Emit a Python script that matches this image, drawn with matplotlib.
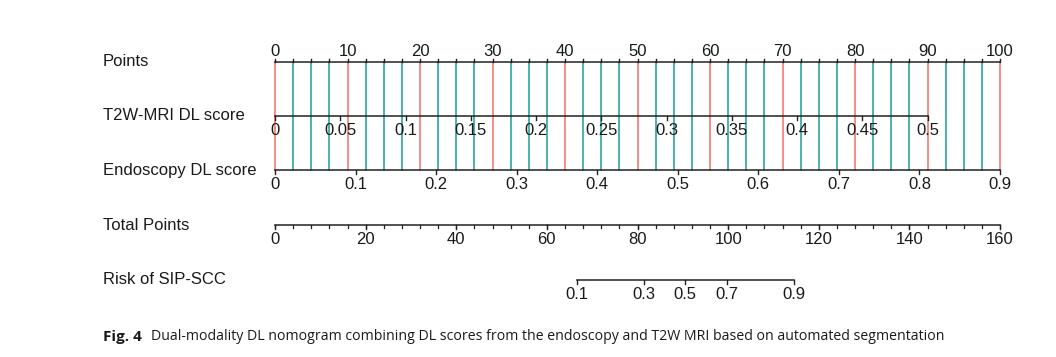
import numpy as np
import matplotlib
matplotlib.use("Agg")
import matplotlib.pyplot as plt

# nomogram scales
points_ticks = [0, 10, 20, 30, 40, 50, 60, 70, 80, 90, 100]
t2w_scores = [0, 0.05, 0.1, 0.15, 0.2, 0.25, 0.3, 0.35, 0.4, 0.45, 0.5]
t2w_labels = ["0", "0.05", "0.1", "0.15", "0.2", "0.25", "0.3", "0.35", "0.4", "0.45", "0.5"]
t2w_points_at_max = 90      # score 0.5 -> 90 points
endo_scores = [0, 0.1, 0.2, 0.3, 0.4, 0.5, 0.6, 0.7, 0.8, 0.9]
endo_labels = ["0", "0.1", "0.2", "0.3", "0.4", "0.5", "0.6", "0.7", "0.8", "0.9"]
endo_points_at_max = 100    # score 0.9 -> 100 points
total_ticks = [0, 20, 40, 60, 80, 100, 120, 140, 160]
risk_labels = ["0.1", "0.3", "0.5", "0.7", "0.9"]
risk_total_points = [66.6, 81.4, 90.5, 99.8, 114.6]
row_names = ["Points", "T2W-MRI DL score", "Endoscopy DL score", "Total Points", "Risk of SIP-SCC"]

W, H = 1056, 357
x0_px, px_per_pt = 275, 7.25
rows_y = [62, 116, 170, 225, 280]   # pixel rows of the axis lines

plt.rcParams['font.family'] = ['Liberation Sans', 'DejaVu Sans']
fig = plt.figure(figsize=(W / 100, H / 100), dpi=100)
ax = fig.add_axes([0, 0, 1, 1])
ax.set_xlim(-x0_px / px_per_pt, (W - x0_px) / px_per_pt)
ax.set_ylim(H, 0)
ax.axis("off")

red = "#F4857C"
teal = "#3AADA6"
axc = "#222222"
txt = "#1a1a1a"
fs = 12
tick = 3.5

# vertical guide lines every 2.5 points
for p in np.arange(0, 100.01, 2.5):
    c = red if p % 10 == 0 else teal
    ax.plot([p, p], [rows_y[0], rows_y[2]], color=c, lw=1.3, zorder=1)

# Points axis
y = rows_y[0]
ax.plot([0, 100], [y, y], color=axc, lw=1.1, zorder=2)
for p in np.arange(0, 100.01, 2.5):
    ax.plot([p, p], [y, y - tick], color=axc, lw=1.0, zorder=2)
for p in points_ticks:
    ax.text(p, y - 3, str(p), ha="center", va="bottom", fontsize=fs, color=txt)

# T2W-MRI DL score axis
y = rows_y[1]
t2w_pts = [s / t2w_scores[-1] * t2w_points_at_max for s in t2w_scores]
ax.plot([0, t2w_pts[-1]], [y, y], color=axc, lw=1.1, zorder=2)
for p, lab in zip(t2w_pts, t2w_labels):
    ax.plot([p, p], [y, y + tick], color=axc, lw=1.0, zorder=2)
    ax.text(p, y + 7, lab, ha="center", va="top", fontsize=fs, color=txt)

# Endoscopy DL score axis
y = rows_y[2]
endo_pts = [s / endo_scores[-1] * endo_points_at_max for s in endo_scores]
ax.plot([0, 100], [y, y], color=axc, lw=1.1, zorder=2)
for p, lab in zip(endo_pts, endo_labels):
    ax.plot([p, p], [y, y + tick], color=axc, lw=1.0, zorder=2)
    ax.text(p, y + 7, lab, ha="center", va="top", fontsize=fs, color=txt)

# Total points axis
y = rows_y[3]
scale = 100 / total_ticks[-1]
ax.plot([0, 100], [y, y], color=axc, lw=1.1, zorder=2)
for t in np.arange(0, 160.01, 4):
    ax.plot([t * scale] * 2, [y, y + 2.5], color=axc, lw=0.9, zorder=2)
for t in total_ticks:
    ax.plot([t * scale] * 2, [y, y + tick], color=axc, lw=1.0, zorder=2)
    ax.text(t * scale, y + 7, str(t), ha="center", va="top", fontsize=fs, color=txt)

# Risk axis
y = rows_y[4]
rp = [t * scale for t in risk_total_points]
ax.plot([rp[0], rp[-1]], [y, y], color=axc, lw=1.1, zorder=2)
for p, lab in zip(rp, risk_labels):
    ax.plot([p, p], [y, y + tick], color=axc, lw=1.0, zorder=2)
    ax.text(p, y + 7, lab, ha="center", va="top", fontsize=fs, color=txt)

# row names
for name, yy in zip(row_names, rows_y):
    ax.text(103 / W, 1 - yy / H, name, transform=ax.transAxes,
            ha="left", va="center", fontsize=fs, color=txt)

# caption
cap_y = 1 - 337 / H
fig.text(103 / W, cap_y, "Fig. 4", fontsize=11, fontweight="bold",
         family=["Open Sans", "DejaVu Sans"], va="center", color=txt)
fig.text(151 / W, cap_y,
         "Dual-modality DL nomogram combining DL scores from the endoscopy and T2W MRI based on automated segmentation",
         fontsize=10.2, family=["Open Sans", "DejaVu Sans"], va="center", color=txt)

fig.savefig("out.png", dpi=100)
